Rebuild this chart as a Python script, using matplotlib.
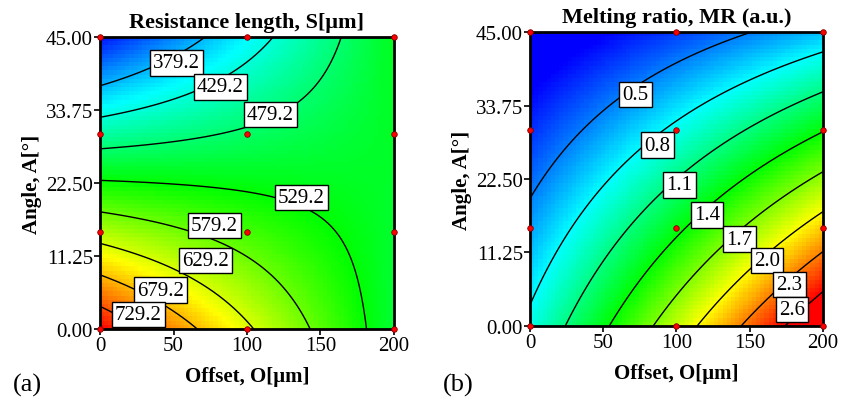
import numpy as np
import matplotlib
matplotlib.use('Agg')
import matplotlib.pyplot as plt
from matplotlib.colors import LinearSegmentedColormap

plt.rcParams['font.family'] = ['Liberation Serif', 'DejaVu Serif']

# design points (offset in um, angle in deg)
offset_levels = [0, 100, 200]
angle_levels = [0, 15, 30, 45]

# responses at the design points, rows = offset, cols = angle
s_values = [[765, 611, 456, 302],
            [635, 560, 485, 410],
            [505, 509, 513, 518]]
mr_values = [[0.86, 0.58, 0.31, 0.03],
             [1.86, 1.35, 0.85, 0.34],
             [2.86, 2.12, 1.39, 0.65]]

s_levels = [379.2, 429.2, 479.2, 529.2, 579.2, 629.2, 679.2, 729.2]
mr_levels = [0.5, 0.8, 1.1, 1.4, 1.7, 2.0, 2.3, 2.6]

# colour scale limits (blue .. red)
s_color_range = (295, 765)
mr_color_range = (0.2, 2.6)

# where the contour label boxes sit (offset, angle)
s_label_pos = [(52, 41.0), (82, 37.3), (116, 33.1), (137, 20.3),
               (78, 15.9), (72, 10.6), (41, 6.0), (26, 2.2)]
mr_label_pos = [(72, 35.4), (87, 27.7), (102, 21.6), (121, 17.0),
                (143, 13.3), (162, 10.0), (177, 6.3), (179, 2.5)]

xticks = [0, 50, 100, 150, 200]
yticks = [0, 11.25, 22.5, 33.75, 45]
ytick_labels = ['0.00', '11.25', '22.50', '33.75', '45.00']

cmap = LinearSegmentedColormap.from_list(
    'de', ['#0000ff', '#00ffff', '#00ff00', '#ffff00', '#ff0000'])

OO, AA = np.meshgrid(offset_levels, angle_levels, indexing='ij')


def fit_surface(values, o, a):
    # quadratic response surface fitted to the design points
    def terms(x, y):
        return np.stack([np.ones_like(x), x, y, x * y, x**2, y**2], axis=-1)
    X = terms(OO.ravel().astype(float), AA.ravel().astype(float))
    coef, *_ = np.linalg.lstsq(X, np.asarray(values, float).ravel(), rcond=None)
    return terms(o, a) @ coef


fig = plt.figure(figsize=(8.52, 4.06), dpi=100)
ax_a = fig.add_axes([0.1174, 0.1872, 0.345, 0.7192])
ax_b = fig.add_axes([0.622, 0.1946, 0.344, 0.7241])

n = 70
o_edges = np.linspace(0, 200, n + 1)
a_edges = np.linspace(0, 45, n + 1)
o_c = (o_edges[:-1] + o_edges[1:]) / 2
a_c = (a_edges[:-1] + a_edges[1:]) / 2
Oc, Ac = np.meshgrid(o_c, a_c)
of = np.linspace(0, 200, 300)
af = np.linspace(0, 45, 300)
Of, Af = np.meshgrid(of, af)

panels = [(ax_a, s_values, s_levels, s_label_pos, s_color_range,
           'Resistance length, S[\u03bcm]', '(a)', 0.015),
          (ax_b, mr_values, mr_levels, mr_label_pos, mr_color_range,
           'Melting ratio, MR (a.u.)', '(b)', 0.52)]

for ax, vals, levels, lpos, crange, title, tag, tx in panels:
    zc = fit_surface(vals, Oc, Ac)
    zf = fit_surface(vals, Of, Af)
    ax.pcolormesh(o_edges, a_edges, zc, cmap=cmap, vmin=crange[0], vmax=crange[1],
                  shading='flat')
    ax.contour(Of, Af, zf, levels=levels, colors='black', linewidths=1.0)
    for lev, (x, y) in zip(levels, lpos):
        ax.text(x, y, '%.1f' % lev, fontsize=15, ha='center', va='center', zorder=4,
                bbox=dict(boxstyle='square,pad=0.15', facecolor='white',
                          edgecolor='black', linewidth=1.0))
    ax.scatter(OO.ravel(), AA.ravel(), s=16, c='red', edgecolors='#800000',
               linewidths=0.6, zorder=6, clip_on=False)
    ax.set_xlim(0, 200)
    ax.set_ylim(0, 45)
    ax.set_xticks(xticks)
    ax.set_yticks(yticks)
    ax.set_yticklabels(ytick_labels)
    ax.tick_params(direction='out', length=4, width=1.2, labelsize=15, pad=1)
    for sp in ax.spines.values():
        sp.set_linewidth(2)
    ax.set_title(title, fontsize=16, fontweight='bold', pad=7)
    ax.set_xlabel('Offset, O[\u03bcm]', fontsize=15, fontweight='bold', labelpad=8)
    ax.set_ylabel('Angle, A[\u00b0]', fontsize=15, fontweight='bold', labelpad=3)
    fig.text(tx, 0.05, tag, fontsize=19, va='center', ha='left')

plt.savefig('out.png', dpi=100)
